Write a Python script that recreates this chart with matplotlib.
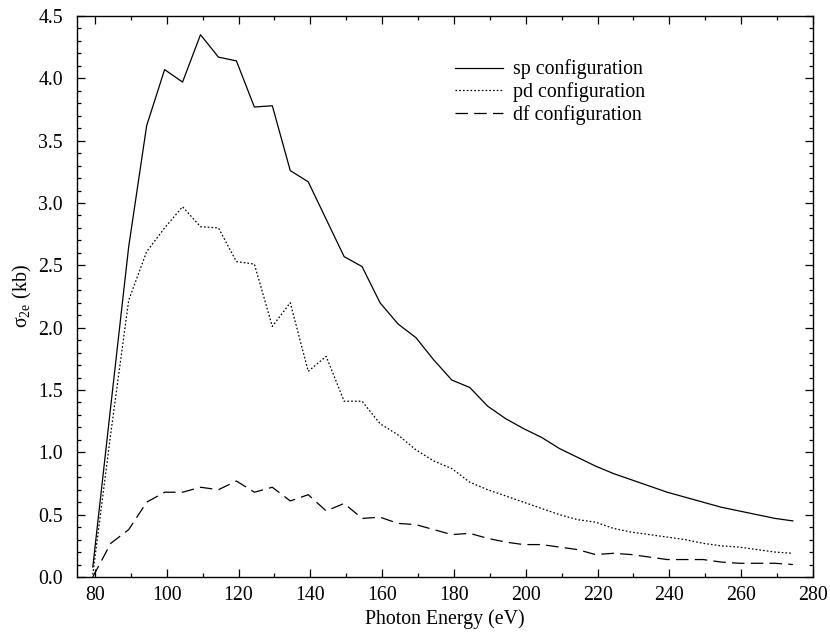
import numpy as np
import matplotlib
matplotlib.use('Agg')
import matplotlib.pyplot as plt
from matplotlib.ticker import MultipleLocator

plt.rcParams['font.family'] = ['Liberation Serif', 'DejaVu Serif']
plt.rcParams['mathtext.fontset'] = 'custom'
plt.rcParams['mathtext.rm'] = 'Liberation Serif'
plt.rcParams['lines.scale_dashes'] = False

# photon energy (eV)
energy = [79.4, 84.4, 89.4, 94.4, 99.4, 104.4, 109.4, 114.4, 119.4, 124.4,
          129.4, 134.4, 139.4, 144.4, 149.4, 154.4, 159.4, 164.4, 169.4, 174.4,
          179.4, 184.4, 189.4, 194.4, 199.4, 204.4, 209.4, 214.4, 219.4, 224.4,
          229.4, 234.4, 239.4, 244.4, 249.4, 254.4, 259.4, 264.4, 269.4, 274.4]

sp = [0.08, 1.37, 2.65, 3.62, 4.07, 3.97, 4.35, 4.17, 4.14, 3.77,
      3.78, 3.26, 3.17, 2.87, 2.57, 2.49, 2.20, 2.03, 1.92, 1.74,
      1.58, 1.52, 1.37, 1.27, 1.19, 1.12, 1.03, 0.96, 0.89, 0.83,
      0.78, 0.73, 0.68, 0.64, 0.60, 0.56, 0.53, 0.50, 0.47, 0.45]

pd_ = [0.02, 1.15, 2.22, 2.61, 2.80, 2.97, 2.81, 2.80, 2.53, 2.51,
       2.01, 2.20, 1.65, 1.77, 1.41, 1.41, 1.23, 1.14, 1.02, 0.93,
       0.87, 0.76, 0.70, 0.65, 0.60, 0.55, 0.50, 0.46, 0.44, 0.39,
       0.36, 0.34, 0.32, 0.30, 0.27, 0.25, 0.24, 0.22, 0.20, 0.19]

df = [0.0, 0.27, 0.38, 0.60, 0.68, 0.68, 0.72, 0.70, 0.77, 0.68,
      0.72, 0.61, 0.66, 0.53, 0.59, 0.47, 0.48, 0.43, 0.42, 0.38,
      0.34, 0.35, 0.31, 0.28, 0.26, 0.26, 0.24, 0.22, 0.18, 0.19,
      0.18, 0.16, 0.14, 0.14, 0.14, 0.12, 0.11, 0.11, 0.11, 0.10]

fs = 14.3

fig = plt.figure(figsize=(8.3, 6.32), dpi=100)
ax = fig.add_axes([77/830, 1 - 577/632, (813 - 77)/830, (577 - 16)/632])

ax.plot(energy, sp, color='black', lw=0.9, label='sp configuration')
ax.plot(energy, pd_, color='black', lw=0.9, linestyle=(0, (1.2, 1.5)), label='pd configuration')
ax.plot(energy, df, color='black', lw=0.9, linestyle=(0, (9, 4.5)), label='df configuration')

ax.set_xlim(75, 280)
ax.set_ylim(0, 4.5)
ax.xaxis.set_major_locator(MultipleLocator(20))
ax.xaxis.set_minor_locator(MultipleLocator(10))
ax.yaxis.set_major_locator(MultipleLocator(0.5))
ax.yaxis.set_minor_locator(MultipleLocator(0.1))
ax.yaxis.set_major_formatter(matplotlib.ticker.FormatStrFormatter('%.1f'))
ax.tick_params(which='both', direction='in', top=True, right=True, labelsize=fs)
ax.tick_params(which='major', length=6, width=0.9)
ax.tick_params(which='minor', length=3, width=0.9)
ax.tick_params(axis='y', which='major', pad=10)
ax.tick_params(axis='x', which='major', pad=6.5)
for s in ax.spines.values():
    s.set_linewidth(1.0)

ax.set_xlabel('Photon Energy (eV)', fontsize=fs, labelpad=3)
ax.set_ylabel(r'σ$_{\mathrm{2e}}$ (kb)', fontsize=fs, labelpad=3)

ax.legend(frameon=False, fontsize=fs, loc='upper left', bbox_to_anchor=(0.5, 0.94),
          handlelength=2.4, handletextpad=0.5, labelspacing=0.15, borderpad=0)

fig.savefig('out.png', dpi=100)
